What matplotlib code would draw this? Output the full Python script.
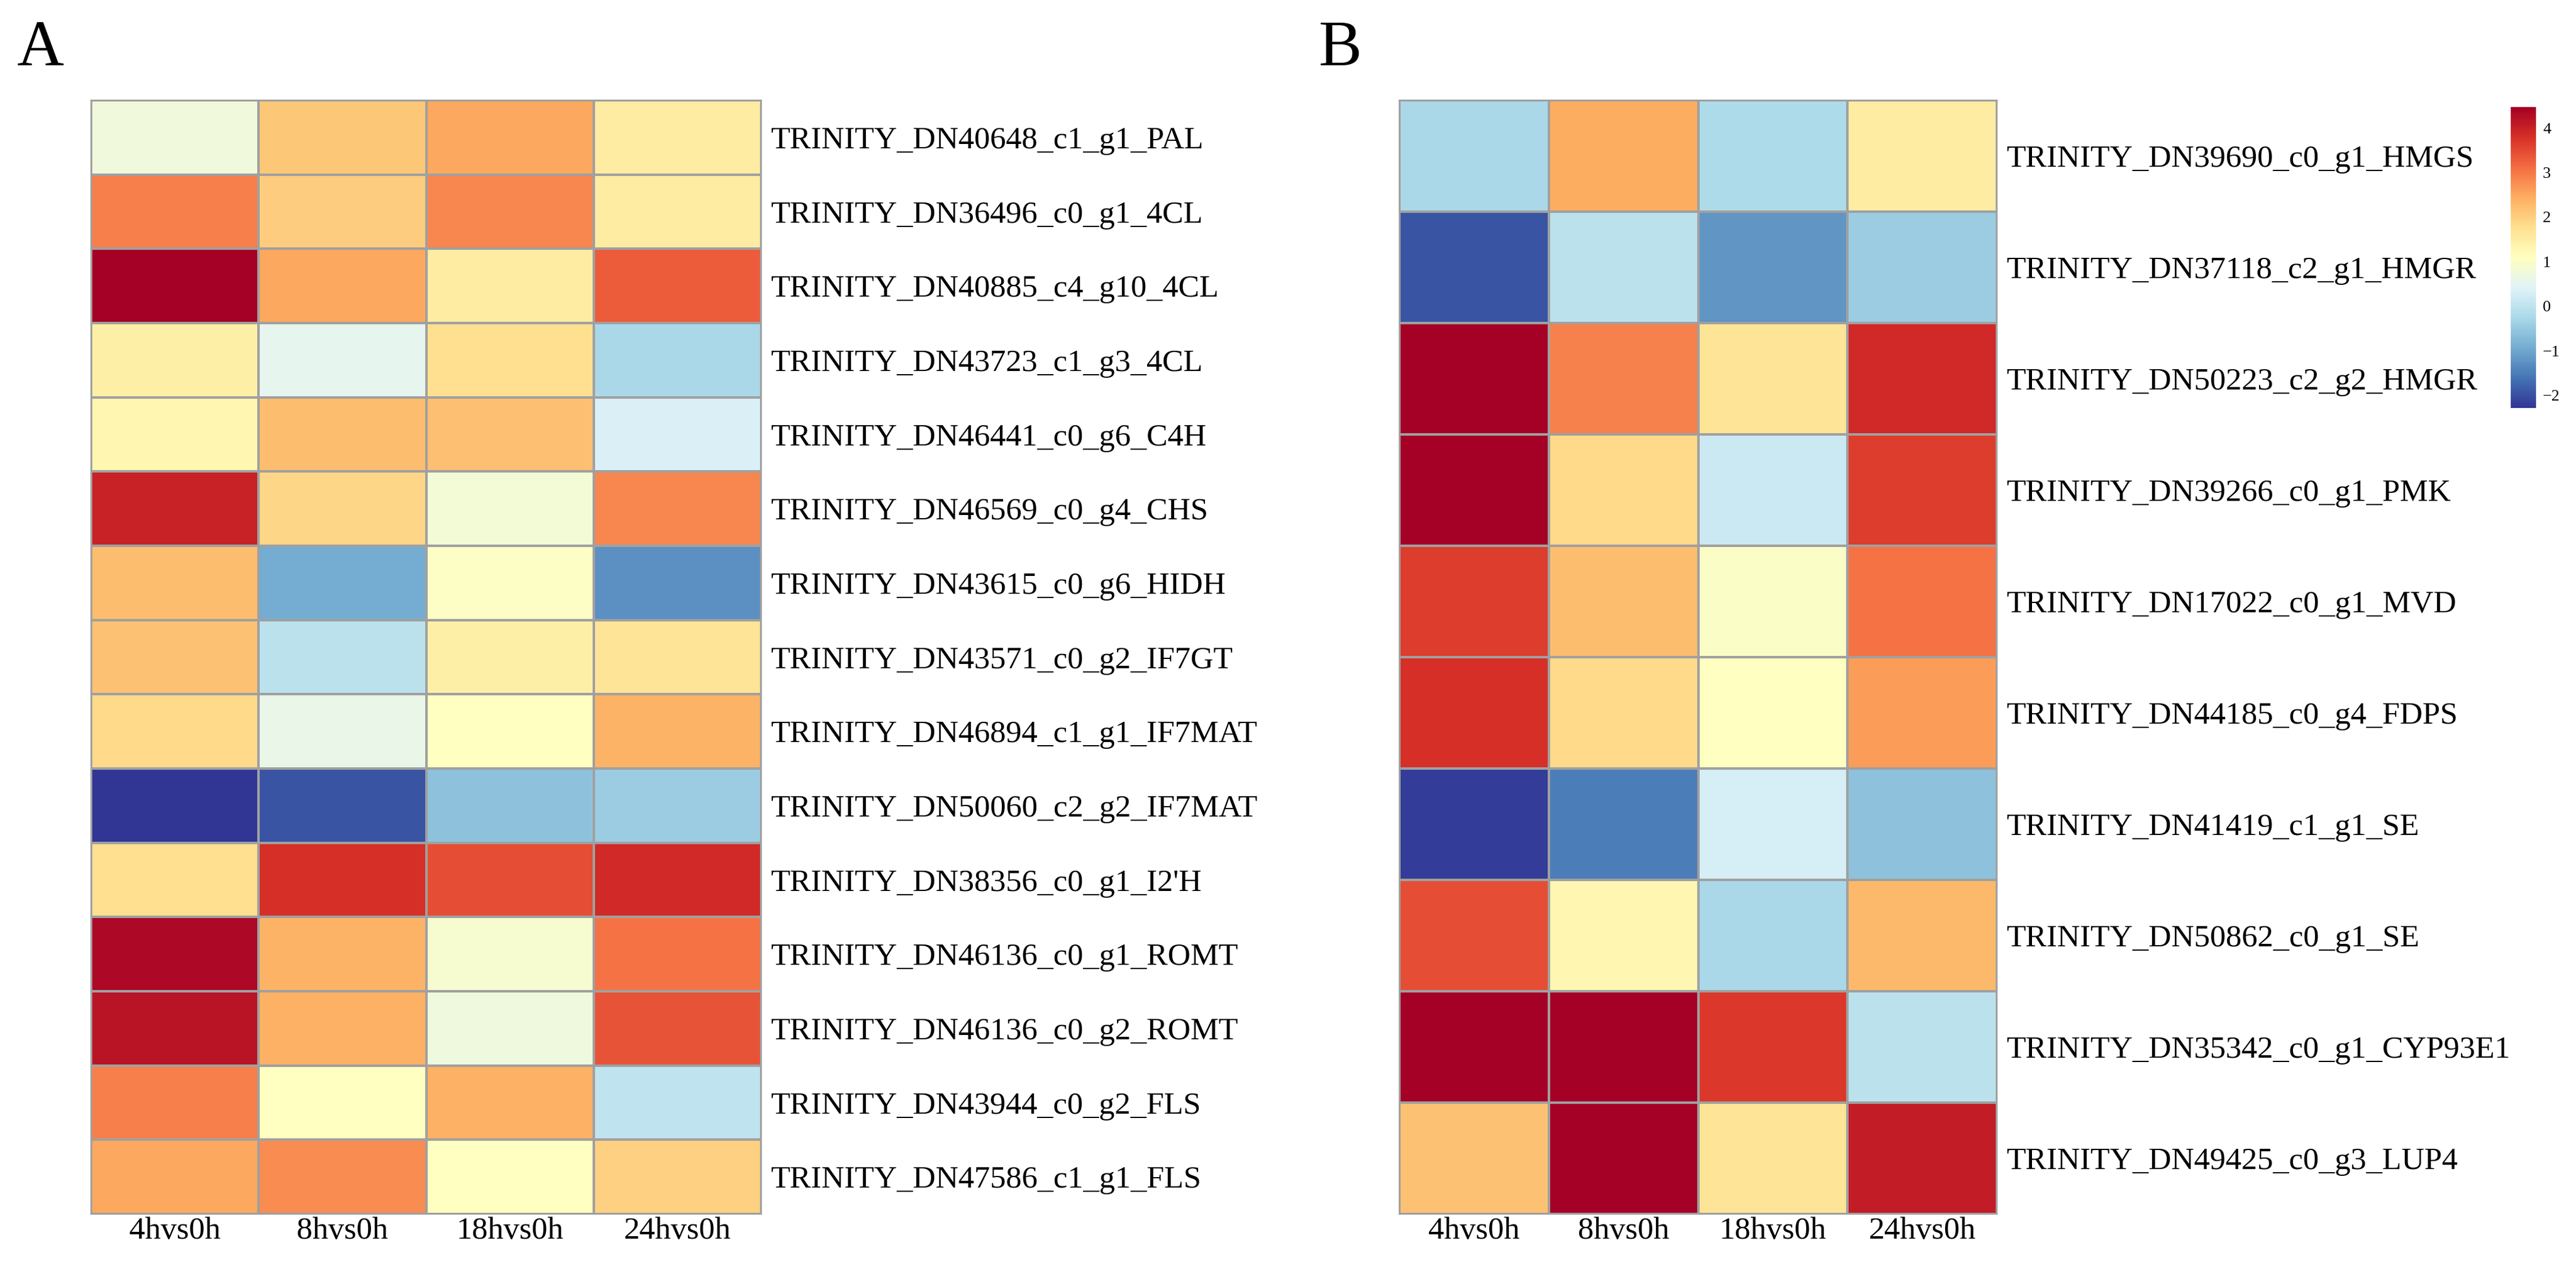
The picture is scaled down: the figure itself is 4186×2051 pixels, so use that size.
"""
Two-panel expression heatmap (log2 fold change vs 0h), pheatmap style.
"""
import matplotlib
matplotlib.use("Agg")
import matplotlib.pyplot as plt
import numpy as np
from matplotlib.colors import Normalize
from matplotlib.cm import ScalarMappable

plt.rcParams["font.family"] = ["Liberation Serif", "DejaVu Serif"]

# ---------------------------------------------------------------------------
# Data
# ---------------------------------------------------------------------------

conditions = ["4hvs0h", "8hvs0h", "18hvs0h", "24hvs0h"]

genes_a = [
    "TRINITY_DN40648_c1_g1_PAL",
    "TRINITY_DN36496_c0_g1_4CL",
    "TRINITY_DN40885_c4_g10_4CL",
    "TRINITY_DN43723_c1_g3_4CL",
    "TRINITY_DN46441_c0_g6_C4H",
    "TRINITY_DN46569_c0_g4_CHS",
    "TRINITY_DN43615_c0_g6_HIDH",
    "TRINITY_DN43571_c0_g2_IF7GT",
    "TRINITY_DN46894_c1_g1_IF7MAT",
    "TRINITY_DN50060_c2_g2_IF7MAT",
    "TRINITY_DN38356_c0_g1_I2'H",
    "TRINITY_DN46136_c0_g1_ROMT",
    "TRINITY_DN46136_c0_g2_ROMT",
    "TRINITY_DN43944_c0_g2_FLS",
    "TRINITY_DN47586_c1_g1_FLS",
]
values_a = [
    [0.76, 2.10, 2.50, 1.50],
    [2.92, 2.04, 2.85, 1.50],
    [4.47, 2.50, 1.50, 3.30],
    [1.45, 0.55, 1.77, -0.25],
    [1.30, 2.24, 2.22, 0.35],
    [3.98, 1.90, 0.82, 2.85],
    [2.24, -0.93, 1.03, -1.27],
    [2.20, -0.05, 1.45, 1.70],
    [1.85, 0.62, 1.07, 2.37],
    [-2.28, -1.95, -0.60, -0.45],
    [1.77, 3.80, 3.46, 3.87],
    [4.35, 2.37, 0.90, 3.05],
    [4.20, 2.40, 0.75, 3.40],
    [2.93, 1.07, 2.40, 0.00],
    [2.50, 2.80, 1.07, 1.97],
]

genes_b = [
    "TRINITY_DN39690_c0_g1_HMGS",
    "TRINITY_DN37118_c2_g1_HMGR",
    "TRINITY_DN50223_c2_g2_HMGR",
    "TRINITY_DN39266_c0_g1_PMK",
    "TRINITY_DN17022_c0_g1_MVD",
    "TRINITY_DN44185_c0_g4_FDPS",
    "TRINITY_DN41419_c1_g1_SE",
    "TRINITY_DN50862_c0_g1_SE",
    "TRINITY_DN35342_c0_g1_CYP93E1",
    "TRINITY_DN49425_c0_g3_LUP4",
]
values_b = [
    [-0.25, 2.45, -0.20, 1.50],
    [-1.95, -0.05, -1.20, -0.45],
    [4.47, 2.90, 1.70, 3.87],
    [4.45, 1.85, 0.15, 3.65],
    [3.65, 2.24, 1.00, 3.05],
    [3.80, 1.85, 1.07, 2.60],
    [-2.20, -1.50, 0.28, -0.60],
    [3.45, 1.30, -0.25, 2.30],
    [4.45, 4.47, 3.70, -0.05],
    [2.20, 4.47, 1.70, 4.05],
]

colorbar_ticks = [-2, -1, 0, 1, 2, 3, 4]
vmin, vmax = -2.28, 4.47

# ---------------------------------------------------------------------------
# Layout (pixel geometry of the original figure, dpi=100)
# ---------------------------------------------------------------------------

W, H = 4186, 2051
DPI = 100
GRID = "#a0a0a0"
cmap = plt.get_cmap("RdYlBu_r")
norm = Normalize(vmin=vmin, vmax=vmax)


def px_axes(fig, x0, y0, x1, y1):
    """Axes from pixel box (top-left origin)."""
    return fig.add_axes([x0 / W, 1 - y1 / H, (x1 - x0) / W, (y1 - y0) / H])


def draw_heatmap(ax, data, rows):
    data = np.asarray(data)
    ax.pcolormesh(data, cmap=cmap, norm=norm, edgecolors=GRID, linewidth=1.6)
    ax.set_xlim(0, data.shape[1])
    ax.set_ylim(data.shape[0], 0)
    ax.set_xticks(np.arange(data.shape[1]) + 0.5)
    ax.set_xticklabels(conditions, fontsize=37)
    ax.set_yticks(np.arange(data.shape[0]) + 0.5)
    ax.set_yticklabels(rows, fontsize=37)
    ax.yaxis.tick_right()
    ax.tick_params(axis="x", length=0, pad=3)
    ax.tick_params(axis="y", length=0, pad=11)
    for sp in ax.spines.values():
        sp.set_edgecolor(GRID)
        sp.set_linewidth(1.6)


fig = plt.figure(figsize=(W / DPI, H / DPI), dpi=DPI)

ax_a = px_axes(fig, 148, 163, 1237, 1973)
draw_heatmap(ax_a, values_a, genes_a)

ax_b = px_axes(fig, 2274, 163, 3245, 1973)
draw_heatmap(ax_b, values_b, genes_b)

cax = px_axes(fig, 4080, 174, 4121, 663)
cb = fig.colorbar(ScalarMappable(norm=norm, cmap=cmap), cax=cax, ticks=colorbar_ticks)
cb.outline.set_visible(False)
cb.ax.tick_params(length=0, pad=8, labelsize=19)

fig.text(28 / W, 1 - 106 / H, "A", fontsize=76, va="baseline", ha="left")
fig.text(2143 / W, 1 - 106 / H, "B", fontsize=76, va="baseline", ha="left")

fig.savefig("out.png", dpi=DPI, facecolor="white")
plt.close(fig)
